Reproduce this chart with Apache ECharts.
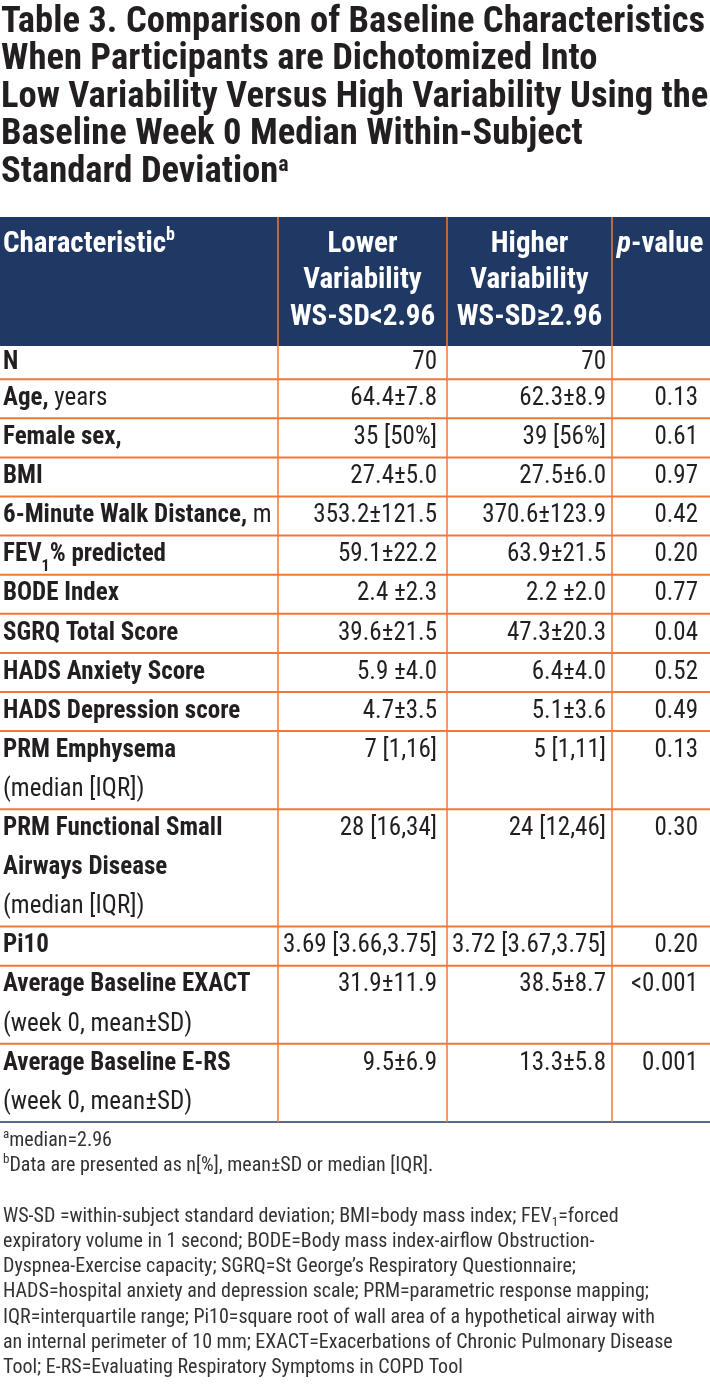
<!DOCTYPE html>
<html>
<head>
<meta charset="utf-8">
<script src="https://cdn.jsdelivr.net/npm/echarts@6/dist/echarts.min.js"></script>
<style>html,body{margin:0;padding:0;background:#fff}#chart{width:710px;height:1391px}</style>
</head>
<body>
<div id="chart"></div>
<script>
// ---------------- DATA ----------------
const titleLines = [
  'Table 3. Comparison of Baseline Characteristics',
  'When Participants are Dichotomized Into',
  'Low Variability Versus High Variability Using the',
  'Baseline Week 0 Median Within-Subject',
  'Standard Deviation'
];
const titleNote = 'a';

const headers = [
  'Characteristic',
  'Lower\nVariability\nWS-SD<2.96',
  'Higher\nVariability\nWS-SD≥2.96',
  'p-value'
];
const headerNote = 'b';

// {b|..} bold part, {r|..} regular part, {sub|..} subscript
const characteristics = [
  '{b|N}',
  '{b|Age,}{r| years}',
  '{b|Female sex,}',
  '{b|BMI}',
  '{b|6-Minute Walk Distance,}{r| m}',
  '{b|FEV}{sub|1}{b|% predicted}',
  '{b|BODE Index}',
  '{b|SGRQ Total Score}',
  '{b|HADS Anxiety Score}',
  '{b|HADS Depression score}',
  '{b|PRM Emphysema}\n{r|(median [IQR])}',
  '{b|PRM Functional Small}\n{b|Airways Disease}\n{r|(median [IQR])}',
  '{b|Pi10}',
  '{b|Average Baseline EXACT}\n{r|(week 0, mean±SD)}',
  '{b|Average Baseline E-RS}\n{r|(week 0, mean±SD)}'
];
const lowerVariability = ['70', '64.4±7.8', '35 [50%]', '27.4±5.0', '353.2±121.5', '59.1±22.2', '2.4 ±2.3', '39.6±21.5', '5.9 ±4.0', '4.7±3.5', '7 [1,16]', '28 [16,34]', '3.69 [3.66,3.75]', '31.9±11.9', '9.5±6.9'];
const higherVariability = ['70', '62.3±8.9', '39 [56%]', '27.5±6.0', '370.6±123.9', '63.9±21.5', '2.2 ±2.0', '47.3±20.3', '6.4±4.0', '5.1±3.6', '5 [1,11]', '24 [12,46]', '3.72 [3.67,3.75]', '38.5±8.7', '13.3±5.8'];
const pValues = ['', '0.13', '0.61', '0.97', '0.42', '0.20', '0.77', '0.04', '0.52', '0.49', '0.13', '0.30', '0.20', '<0.001', '0.001'];

const footnoteMarks = ['a', 'b'];
const footnoteTexts = ['median=2.96', 'Data are presented as n[%], mean±SD or median [IQR].'];
const abbreviationLines = [
  'WS-SD =within-subject standard deviation; BMI=body mass index; FEV{sub|1}=forced',
  'expiratory volume in 1 second; BODE=Body mass index-airflow Obstruction-',
  'Dyspnea-Exercise capacity; SGRQ=St George’s Respiratory Questionnaire;',
  'HADS=hospital anxiety and depression scale; PRM=parametric response mapping;',
  'IQR=interquartile range; Pi10=square root of wall area of a hypothetical airway with',
  'an internal perimeter of 10 mm; EXACT=Exacerbations of Chronic Pulmonary Disease',
  'Tool; E-RS=Evaluating Respiratory Symptoms in COPD Tool'
];

// ---------------- STYLE ----------------
const FAM = '"Roboto Condensed", "Liberation Sans", sans-serif';
const NAVY = '#1f3864';
const ORANGE = '#f07838';
const INK = '#231f20';
const colEdges = [0, 278, 447, 612, 710];
const colPads = [3, 10, 6, 12];
const headerUnits = 3.3;
const compactRowUnits = { 0: 0.85 };
const BODY_SIZE = 25, HEAD_SIZE = 29, TITLE_SIZE = 36.6;

// row layout in "line units" derived from the number of text lines in each row
const rowUnits = [headerUnits].concat(characteristics.map((c, i) =>
  compactRowUnits[i] != null ? compactRowUnits[i] : c.split('\n').length));
const rowStarts = [0];
rowUnits.forEach((u, i) => rowStarts.push(rowStarts[i] + u));
const totalUnits = rowStarts[rowStarts.length - 1];
const rowData = rowUnits.map((u, i) => [i, rowStarts[i], rowStarts[i + 1]]);

function font(w, s, st) { return (st || '') + ' ' + w + ' ' + s + 'px ' + FAM; }

function renderItem(params, api) {
  const i = params.dataIndex;
  const y0 = api.coord([0, api.value(1)])[1];
  const y1 = api.coord([0, api.value(2)])[1];
  const xs = colEdges.map(e => api.coord([e, 0])[0]);
  const unitPx = Math.abs(api.size([0, 1])[1]);
  const rowPx = y1 - y0;
  const children = [];
  if (i === 0) {
    children.push({ type: 'rect', shape: { x: xs[0], y: y0, width: xs[4] - xs[0], height: rowPx }, style: { fill: NAVY } });
    const lh = 36.5, top = y0 + 9;
    const hdRich = {
      h: { font: font('bold', HEAD_SIZE), lineHeight: lh, fill: '#fff' },
      sup: { font: font('bold', 18), lineHeight: 21, verticalAlign: 'top', fill: '#fff' },
      it: { font: font('bold', HEAD_SIZE, 'italic'), lineHeight: lh, fill: '#fff' }
    };
    const pv = headers[3].split('-');
    const texts = [
      { x: xs[0] + colPads[0], align: 'left', text: '{h|' + headers[0] + '}{sup|' + headerNote + '}' },
      { x: (xs[1] + xs[2]) / 2, align: 'center', text: headers[1].split('\n').map(s => '{h|' + s + '}').join('\n') },
      { x: (xs[2] + xs[3]) / 2, align: 'center', text: headers[2].split('\n').map(s => '{h|' + s + '}').join('\n') },
      { x: xs[3] + 5, align: 'left', text: '{it|' + pv[0] + '}{h|-' + pv.slice(1).join('-') + '}' }
    ];
    texts.forEach(t => children.push({
      type: 'text', x: t.x, y: top,
      style: { text: t.text, align: t.align, verticalAlign: 'top', rich: hdRich, font: font('bold', HEAD_SIZE), lineHeight: lh, fill: '#fff' }
    }));
  } else {
    const r = i - 1;
    const nLines = characteristics[r].split('\n').length;
    const off = Math.min(0, (rowPx - nLines * unitPx) / 2);
    const bodyRich = {
      b: { font: font('bold', BODY_SIZE), lineHeight: unitPx, fill: INK },
      r: { font: font('normal', BODY_SIZE), lineHeight: unitPx, fill: INK },
      sub: { font: font('bold', 16), lineHeight: 25, verticalAlign: 'bottom', fill: INK }
    };
    children.push({
      type: 'text', x: xs[0] + colPads[0], y: y0 + off,
      style: { text: characteristics[r], align: 'left', verticalAlign: 'top', rich: bodyRich, font: font('bold', BODY_SIZE), lineHeight: unitPx, fill: INK }
    });
    [lowerVariability, higherVariability, pValues].forEach((arr, c) => {
      children.push({
        type: 'text', x: xs[c + 2] - colPads[c + 1], y: y0 + off,
        style: { text: arr[r], align: 'right', verticalAlign: 'top', font: font('normal', BODY_SIZE), lineHeight: unitPx, fill: INK }
      });
    });
    const last = i === rowData.length - 1;
    children.push({
      type: 'line', shape: { x1: xs[0], y1: y1, x2: xs[4], y2: y1 },
      style: { stroke: last ? NAVY : ORANGE, lineWidth: last ? 1.5 : 2 }
    });
  }
  for (let k = 1; k <= 3; k++) {
    children.push({ type: 'line', shape: { x1: xs[k], y1: y0, x2: xs[k], y2: y1 }, style: { stroke: ORANGE, lineWidth: 1.5 } });
  }
  return { type: 'group', children };
}

const titleText = titleLines.join('\n') + '{sup|' + titleNote + '}';
const footText = footnoteMarks.map((m, k) => '{sup|' + m + '}' + footnoteTexts[k]).join('\n') + '\n \n' + abbreviationLines.join('\n');

const chart = echarts.init(document.getElementById('chart'), null, { renderer: 'canvas' });
chart.setOption({
  animation: false,
  backgroundColor: '#fff',
  textStyle: { fontFamily: FAM },
  title: [
    {
      left: 1, top: 4, padding: 0,
      text: titleText,
      textStyle: {
        fontFamily: FAM, fontWeight: 'bold', fontSize: TITLE_SIZE, lineHeight: 37.5, color: INK,
        rich: { sup: { fontFamily: FAM, fontWeight: 'bold', fontSize: 22, lineHeight: 36, verticalAlign: 'top', color: INK } }
      }
    },
    {
      left: 3, top: 1128, padding: 0,
      text: footText,
      textStyle: {
        fontFamily: FAM, fontWeight: 'normal', fontSize: 20, lineHeight: 25.3, color: '#333',
        rich: {
          sup: { fontFamily: FAM, fontSize: 13, lineHeight: 17, verticalAlign: 'top', color: '#333' },
          sub: { fontFamily: FAM, fontSize: 13, lineHeight: 17, verticalAlign: 'bottom', color: '#333' }
        }
      }
    }
  ],
  grid: { left: 0, right: 0, top: 217, bottom: 1391 - 1122 },
  xAxis: { type: 'value', min: 0, max: 710, show: false },
  yAxis: { type: 'value', min: 0, max: totalUnits, inverse: true, show: false },
  series: [{
    type: 'custom',
    renderItem: renderItem,
    clip: false,
    encode: { x: -1, y: [1, 2] },
    data: rowData
  }]
});
</script>
</body>
</html>
